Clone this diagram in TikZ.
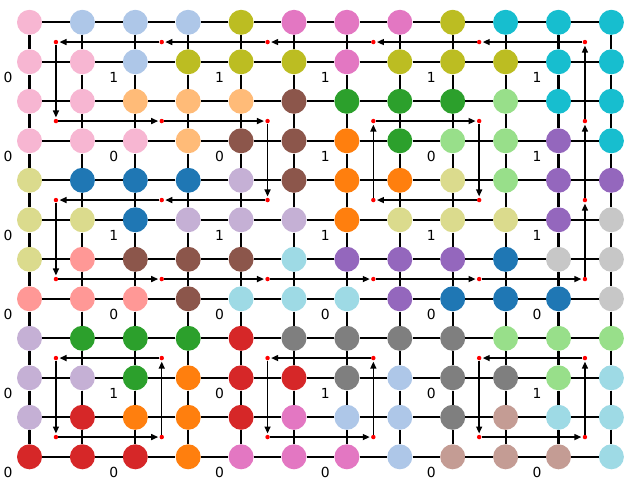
\documentclass[tikz,border=0pt]{standalone}
\usepackage{fontspec}
\setmainfont{DejaVu Sans}
\usetikzlibrary{arrows.meta}
\definecolor{tblue}{HTML}{1F77B4}
\definecolor{tlblue}{HTML}{AEC7E8}
\definecolor{torange}{HTML}{FF7F0E}
\definecolor{tlorange}{HTML}{FFBB78}
\definecolor{tgreen}{HTML}{2CA02C}
\definecolor{tlgreen}{HTML}{98DF8A}
\definecolor{tred}{HTML}{D62728}
\definecolor{tlred}{HTML}{FF9896}
\definecolor{tpurple}{HTML}{9467BD}
\definecolor{tlpurple}{HTML}{C5B0D5}
\definecolor{tbrown}{HTML}{8C564B}
\definecolor{tlbrown}{HTML}{C49C94}
\definecolor{tpink}{HTML}{E377C2}
\definecolor{tlpink}{HTML}{F7B6D2}
\definecolor{tgray}{HTML}{7F7F7F}
\definecolor{tlgray}{HTML}{C7C7C7}
\definecolor{tolive}{HTML}{BCBD22}
\definecolor{tlolive}{HTML}{DBDB8D}
\definecolor{tcyan}{HTML}{17BECF}
\definecolor{tlcyan}{HTML}{9EDAE5}
\begin{document}
\begin{tikzpicture}[x=0.72pt,y=-0.72pt,
  ball/.style={circle,inner sep=0pt,minimum size=18pt,draw=none},
  reddot/.style={circle,inner sep=0pt,minimum size=3.2pt,fill=red,draw=none},
  gridline/.style={line width=1.5pt,black},
  arr/.style={line width=1pt,black,-{Triangle[length=5pt,width=4.3pt]},shorten >=0.8pt},
  lab/.style={inner sep=0pt,font=\fontsize{10pt}{12pt}\selectfont}]
\useasboundingbox (0,0) rectangle (640,480);
% circles
\foreach \row [count=\j from 0] in {
  {lpink,lblue,lblue,lblue,olive,pink,pink,pink,olive,cyan,cyan,cyan},
  {lpink,lpink,lblue,olive,olive,olive,pink,olive,olive,olive,cyan,cyan},
  {lpink,lpink,lorange,lorange,lorange,brown,green,green,green,lgreen,cyan,cyan},
  {lpink,lpink,lpink,lorange,brown,brown,orange,green,lgreen,lgreen,purple,cyan},
  {lolive,blue,blue,blue,lpurple,brown,orange,orange,lolive,lgreen,purple,purple},
  {lolive,lolive,blue,lpurple,lpurple,lpurple,orange,lolive,lolive,lolive,purple,lgray},
  {lolive,lred,brown,brown,brown,lcyan,purple,purple,purple,blue,lgray,lgray},
  {lred,lred,lred,brown,lcyan,lcyan,lcyan,purple,blue,blue,blue,lgray},
  {lpurple,green,green,green,red,gray,gray,gray,gray,lgreen,lgreen,lgreen},
  {lpurple,lpurple,green,orange,red,red,gray,lblue,gray,gray,lgreen,lcyan},
  {lpurple,red,orange,orange,red,pink,lblue,lblue,gray,lbrown,lcyan,lcyan},
  {red,red,red,orange,pink,pink,pink,lblue,lbrown,lbrown,lbrown,lcyan}} {
  \foreach \col [count=\i from 0] in \row {
    \node[ball,fill=t\col] (c-\i-\j) at ({29.5+52.9*\i},{22.3+39.5*\j}) {};
  }
}
% grid lines
\foreach \j in {0,...,11} {
  \foreach \i in {0,...,10} {
    \pgfmathtruncatemacro\k{\i+1}
    \draw[gridline] (c-\i-\j) -- (c-\k-\j);
  }
}
\foreach \i in {0,...,11} {
  \foreach \j in {0,...,10} {
    \pgfmathtruncatemacro\k{\j+1}
    \draw[gridline] (c-\i-\j) -- (c-\i-\k);
  }
}
% red dots
\foreach \a in {0,...,5} {
  \foreach \b in {0,...,5} {
    \node[reddot] (d-\a-\b) at ({55.95+105.8*\a},{42.05+79*\b}) {};
  }
}
% arrows
\foreach \fa/\fb/\ta/\tb in {
  5/0/4/0, 4/0/3/0, 3/0/2/0, 2/0/1/0, 1/0/0/0, 0/0/0/1, 0/1/1/1, 1/1/2/1,
  2/1/2/2, 2/2/1/2, 1/2/0/2, 0/2/0/3, 0/3/1/3, 1/3/2/3, 2/3/3/3, 3/3/4/3,
  4/3/5/3, 5/3/5/2, 5/2/5/1, 5/1/5/0,
  3/1/4/1, 4/1/4/2, 4/2/3/2, 3/2/3/1,
  1/4/0/4, 0/4/0/5, 0/5/1/5, 1/5/1/4,
  3/4/2/4, 2/4/2/5, 2/5/3/5, 3/5/3/4,
  5/4/4/4, 4/4/4/5, 4/5/5/5, 5/5/5/4} {
  \draw[arr] (d-\fa-\fb) -- (d-\ta-\tb);
}
% labels
\foreach \lrow [count=\b from 0] in {
  {0,1,1,1,1,1},
  {0,0,0,1,0,1},
  {0,1,1,1,1,1},
  {0,0,0,0,0,0},
  {0,1,0,1,0,1},
  {0,0,0,0,0,0}} {
  \foreach \v [count=\a from 0] in \lrow {
    \node[lab] (l-\a-\b) at ({8+105.8*\a},{77+79*\b}) {\v};
  }
}
\end{tikzpicture}
\end{document}
